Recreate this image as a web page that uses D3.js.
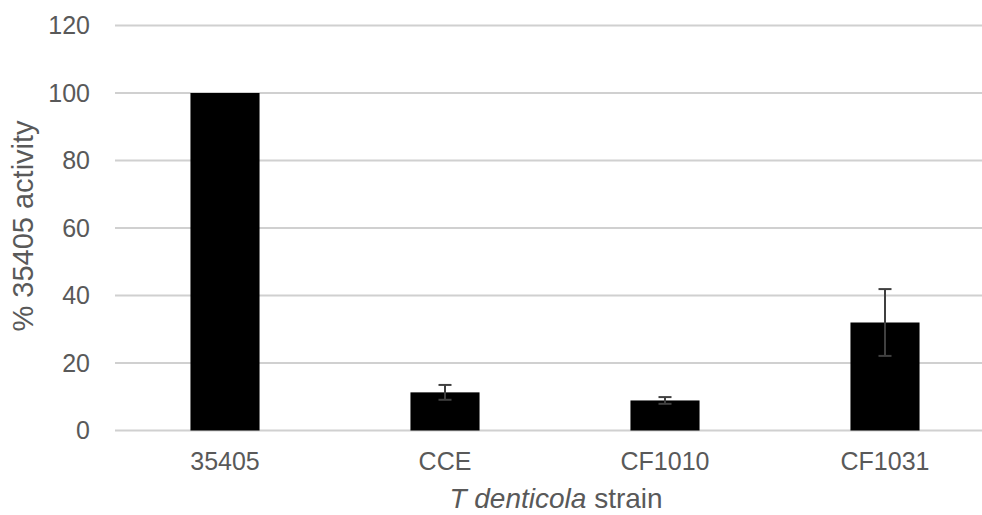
<!DOCTYPE html>
<html><head><meta charset="utf-8">
<script src="https://cdn.jsdelivr.net/npm/d3@7"></script>
<style>body{margin:0;background:#fff;} text{font-family:"Liberation Sans",Arial,sans-serif;}</style>
</head><body><svg id="c" width="982" height="515"></svg>
<script>
const categories = ["35405", "CCE", "CF1010", "CF1031"];
const values = [100, 11.3, 8.9, 32.0];
const errors = [0, 2.2, 1.0, 9.9];
const yTicks = [0, 20, 40, 60, 80, 100, 120];

const svg = d3.select("#c");
const x = d3.scaleBand().domain(categories).range([115, 995]).paddingInner(0.686).paddingOuter(0.343);
const y = d3.scaleLinear().domain([0, 120]).range([430.5, 25.5]);

svg.append("g").selectAll("line").data(yTicks).join("line")
  .attr("x1", 115).attr("x2", 995)
  .attr("y1", d => y(d)).attr("y2", d => y(d))
  .attr("stroke", "#d0d0d0").attr("stroke-width", 2);

const yAxis = svg.append("g").attr("transform", "translate(115,0)")
  .call(d3.axisLeft(y).tickValues(yTicks).tickSize(0).tickPadding(25));
yAxis.select(".domain").remove();
yAxis.selectAll("text").attr("font-size", 25).attr("fill", "#595959").attr("font-family", "Liberation Sans, Arial, sans-serif");

svg.append("g").selectAll("rect").data(categories).join("rect")
  .attr("x", d => x(d)).attr("width", x.bandwidth())
  .attr("y", (d, i) => y(values[i])).attr("height", (d, i) => y(0) - y(values[i]))
  .attr("fill", "#000");

const eb = svg.append("g").attr("stroke", "#404040").attr("stroke-width", 2);
categories.forEach((c, i) => {
  if (!errors[i]) return;
  const cx = x(c) + x.bandwidth() / 2;
  const t = y(values[i] + errors[i]), b = y(values[i] - errors[i]);
  eb.append("line").attr("x1", cx).attr("x2", cx).attr("y1", t).attr("y2", b);
  eb.append("line").attr("x1", cx - 6.5).attr("x2", cx + 6.5).attr("y1", t).attr("y2", t);
  eb.append("line").attr("x1", cx - 6.5).attr("x2", cx + 6.5).attr("y1", b).attr("y2", b);
});

const xAxis = svg.append("g").attr("transform", "translate(0,430.5)")
  .call(d3.axisBottom(x).tickSize(0).tickPadding(22));
xAxis.select(".domain").remove();
xAxis.selectAll("text").attr("font-size", 25).attr("fill", "#595959").attr("font-family", "Liberation Sans, Arial, sans-serif");

const xt = svg.append("text").attr("x", 556).attr("y", 508).attr("text-anchor", "middle")
  .attr("font-size", 28).attr("fill", "#595959");
xt.append("tspan").attr("font-style", "italic").text("T denticola");
xt.append("tspan").text(" strain");

svg.append("text").attr("transform", "translate(33,226) rotate(-90)")
  .attr("text-anchor", "middle").attr("font-size", 29).attr("fill", "#595959")
  .text("% 35405 activity");
</script></body></html>
